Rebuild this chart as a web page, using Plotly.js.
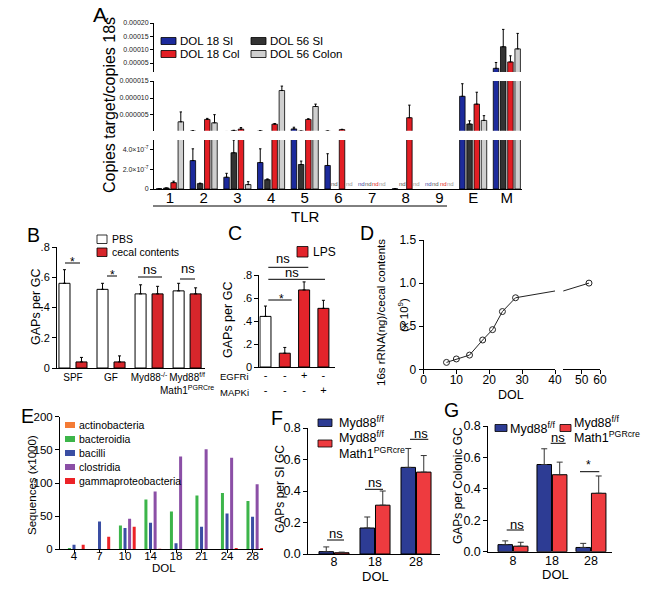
<!DOCTYPE html>
<html><head><meta charset="utf-8">
<script src="https://cdn.plot.ly/plotly-3.0.1.min.js"></script>
<style>html,body{margin:0;padding:0;background:#fff}#chart{width:645px;height:591px}</style>
</head><body><div id="chart"></div>
<script>
// ---------------- Panel A : TLR expression ----------------
const tlrGroups = ['1','2','3','4','5','6','7','8','9','E','M'];
const aNames = ['DOL 18 SI','DOL 56 SI','DOL 18 Col','DOL 56 Colon'];
const aDol18SI     = [0.03e-7, 2.9e-7, 1.2e-7, 2.7e-7, 0.9e-6, 2.4e-7, null, 0.02e-7, null, 10.5e-6, 3.0e-5];
const aDol18SIErr  = [0, 1.2e-7, 0.4e-7, 1.4e-7, 0.5e-6, 1.2e-7, 0, 0, 0, 3.7e-6, 2.2e-5];
const aDol56SI     = [0.1e-7, 0.55e-7, 3.7e-7, 0.95e-7, 2.5e-7, null, null, null, null, 2.35e-6, 11.1e-5];
const aDol56SIErr  = [0, 0.05e-7, 1.3e-7, 0.08e-7, 0.35e-7, 0, 0, 0, 0, 0.95e-6, 6.5e-5];
const aDol18Col    = [0.65e-7, 3.7e-6, 0.85e-6, 2.3e-6, 3.7e-6, 0.7e-6, null, 4.2e-6, null, 8.2e-6, 5.4e-5];
const aDol18ColErr = [0.15e-7, 0.3e-6, 0.45e-6, 0.2e-6, 0.2e-6, 0.1e-6, 0, 3.7e-6, 0, 3.5e-6, 2.3e-5];
const aDol56Col    = [3.0e-6, 2.7e-6, 0.45e-7, 12.2e-6, 7.5e-6, null, null, null, null, 3.4e-6, 10.3e-5];
const aDol56ColErr = [2.9e-6, 2.4e-6, 0.3e-7, 1.3e-6, 0.7e-6, 0, 0, 0, 0, 1.4e-6, 5.8e-5];

// ---------------- Panel B ----------------
const bGroups = ['SPF','GF','Myd88-/-','Myd88f/f Math1PGRCre'];
const bTickText = ['SPF','GF','Myd88<sup>-/-</sup>','Myd88<sup>f/f</sup><br>Math1<sup>PGRCre</sup>'];
const bPBS = [0.56, 0.52, 0.49, 0.51];
const bPBSErr = [0.09, 0.04, 0.06, 0.05];
const bCecal = [0.04, 0.04, 0.49, 0.49];
const bCecalErr = [0.03, 0.04, 0.05, 0.04];

// ---------------- Panel C ----------------
const cConditions = ['control','LPS','LPS+EGFRi','LPS+MAPKi'];
const cValues = [0.44, 0.12, 0.67, 0.51];
const cErr = [0.09, 0.05, 0.07, 0.07];
const cEGFRi = ['-','-','+','-'];
const cMAPKi = ['-','-','-','+'];

// ---------------- Panel D ----------------
const dDol = [7, 10, 14, 18, 21, 24, 28, 54];
const dRNA = [0.08, 0.12, 0.165, 0.34, 0.46, 0.67, 0.83, 1.0];

// ---------------- Panel E ----------------
const eDol = ['4','7','10','14','18','21','24','28'];
const eActinobacteria = [0, 0, 0, 0, 0, 0, 0, 0];
const eBacteroidia = [2, 0, 36, 75, 57, 81, 85, 73];
const eBacilli = [7, 42, 32, 40, 9, 34, 54, 49];
const eClostridia = [0, 0, 46, 87, 140, 151, 138, 98];
const eGammaproteobacteria = [7, 19, 34, 1, 0, 0, 2, 2];

// ---------------- Panels F, G ----------------
const fgDol = ['8','18','28'];
const fCtrl = [0.015, 0.165, 0.55];
const fCtrlErr = [0.03, 0.07, 0.12];
const fMath1 = [0.008, 0.31, 0.52];
const fMath1Err = [0.004, 0.09, 0.105];
const gCtrl = [0.045, 0.555, 0.027];
const gCtrlErr = [0.024, 0.1, 0.026];
const gMath1 = [0.035, 0.49, 0.372];
const gMath1Err = [0.025, 0.08, 0.11];

// ---------------- helpers ----------------
const W = 645, H = 591;
const px = v => v / W;
const py = v => 1 - v / H;
const FA = 'Liberation Sans, Arial, Helvetica, sans-serif';

function axis(extra) {
  return Object.assign({showline:true, linecolor:'#000', linewidth:1, showgrid:false, zeroline:false,
    fixedrange:true, ticks:'outside', ticklen:3, tickwidth:1, tickcolor:'#000', tickangle:0}, extra);
}
function bar(x, y, err, color, xa, ya, width, offset, o) {
  o = o || {};
  return {type:'bar', x:x, y:y, xaxis:xa, yaxis:ya, width:width, offset:offset, textposition:'none',
    marker:{color:color, line:{color:o.lc || '#000', width:o.lw === undefined ? 0.8 : o.lw}},
    error_y: err ? {type:'data', symmetric:false, array:err, arrayminus:err.map(()=>0),
      color:o.ec || '#000', thickness:o.et || 1, width:o.ew || 1.5, visible:true} : {visible:false},
    hoverinfo:'skip', cliponaxis:true, showlegend:false};
}
const annotations = [];
const shapes = [];
function ann(text, x, y, o) {
  o = o || {};
  annotations.push(Object.assign({text:text, x:px(x), y:py(y), xref:'paper', yref:'paper', showarrow:false,
    xanchor:'center', yanchor:'middle', font:{family:FA, size:12, color:'#000'}}, o));
}
function f(size) { return {family:FA, size:size, color:'#000'}; }
function rect(x0, y0, x1, y1, fill) {
  shapes.push({type:'rect', xref:'paper', yref:'paper', x0:px(x0), x1:px(x1), y0:py(y1), y1:py(y0),
    fillcolor:fill, line:{color:'#000', width:0.8}});
}
function hline(x0, x1, y, w) {
  shapes.push({type:'line', xref:'paper', yref:'paper', x0:px(x0), x1:px(x1), y0:py(y), y1:py(y),
    line:{color:'#000', width:w || 1}});
}

const traces = [];

// ---- Panel A bars (three broken-axis segments) ----
const aColors = ['#1c2a9c', '#333333', '#e31e24', '#cfcfcf'];
const aNdColors = ['#3a46a8', '#555555', '#e31e24', '#999999'];
const aVals = [aDol18SI, aDol56SI, aDol18Col, aDol56Col];
const aErrs = [aDol18SIErr, aDol56SIErr, aDol18ColErr, aDol56ColErr];
const aStep = 0.214, aW = 0.163;
['y','y2','y3'].forEach(seg => {
  aVals.forEach((v, k) => {
    traces.push(bar(tlrGroups, v, aErrs[k], aColors[k], 'x', seg, aW, (k - 1.5) * aStep - aW / 2, {ew:1.2}));
  });
});
const aUnitPx = (522 - 154) / (10.45 + 0.475);
aVals.forEach((v, k) => {
  v.forEach((val, i) => {
    if (val === null) {
      annotations.push({text:'nd', xref:'x', yref:'y', x:i, y:0, xshift:(k - 1.5) * aStep * aUnitPx,
        yanchor:'bottom', xanchor:'center', showarrow:false, font:{family:FA, size:6, color:aNdColors[k]}});
    }
  });
});

// ---- Panel B ----
const bStep = 0.447, bW = 0.29;
traces.push(bar(bGroups, bPBS, bPBSErr, '#ffffff', 'x2', 'y4', bW, -bStep / 2 - bW / 2, {lw:1}));
traces.push(bar(bGroups, bCecal, bCecalErr, '#d7262b', 'x2', 'y4', bW, bStep / 2 - bW / 2, {lw:1}));

// ---- Panel C ----
traces.push(bar(cConditions, cValues, cErr, ['#ffffff', '#e3242b', '#e3242b', '#e3242b'], 'x3', 'y5', 0.57, -0.285, {lw:1}));

// ---- Panel D (broken x axis) ----
['x4', 'x5'].forEach(xa => {
  traces.push({type:'scatter', mode:'lines+markers', x:dDol, y:dRNA, xaxis:xa, yaxis:'y6',
    line:{color:'#222', width:1}, marker:{symbol:'circle-open', size:6, color:'#222', line:{width:1}},
    hoverinfo:'skip', showlegend:false, cliponaxis:true});
});

// ---- Panel E ----
const eSeries = [eActinobacteria, eBacteroidia, eBacilli, eClostridia, eGammaproteobacteria];
const eColors = ['#f47b35', '#3cb54a', '#3a4ea3', '#8b4fa6', '#ec2227'];
const eNames = ['actinobacteria', 'bacteroidia', 'bacilli', 'clostridia', 'gammaproteobacteria'];
const eStep = 0.18, eW = 0.118;
eSeries.forEach((v, k) => {
  traces.push(bar(eDol, v, null, eColors[k], 'x6', 'y7', eW, (k - 2) * eStep - eW / 2, {lw:0}));
});

// ---- Panel F ----
const fgBlue = '#2d3c94', fgRed = '#ee3b3f';
const fStep = 0.378, fW = 0.354;
traces.push(bar(fgDol, fCtrl, fCtrlErr, fgBlue, 'x7', 'y8', fW, -fStep / 2 - fW / 2, {lw:1, ec:'#333', ew:3}));
traces.push(bar(fgDol, fMath1, fMath1Err, fgRed, 'x7', 'y8', fW, fStep / 2 - fW / 2, {lw:1, ec:'#333', ew:3}));
// ---- Panel G ----
const gStep = 0.397, gW = 0.372;
traces.push(bar(fgDol, gCtrl, gCtrlErr, fgBlue, 'x8', 'y9', gW, -gStep / 2 - gW / 2, {lw:1, ec:'#333', ew:3}));
traces.push(bar(fgDol, gMath1, gMath1Err, fgRed, 'x8', 'y9', gW, gStep / 2 - gW / 2, {lw:1, ec:'#333', ew:3}));

// ---------------- layout ----------------
const tkA = {family:FA, size:7, color:'#222'};
const layout = {
  width:W, height:H, margin:{l:0, r:0, t:0, b:0}, paper_bgcolor:'#fff', plot_bgcolor:'rgba(0,0,0,0)',
  showlegend:false, barmode:'group', hovermode:false, font:{family:FA, color:'#000'},
  // A
  xaxis: axis({domain:[px(154), px(522)], anchor:'y', type:'category', categoryorder:'array', categoryarray:tlrGroups,
    range:[-0.475, 10.45], ticks:'', tickfont:f(15), ticklabelstandoff:-5}),
  yaxis: axis({domain:[py(189), py(140)], anchor:'x', range:[0, 5.0e-7], tickvals:[0, 2e-7, 4e-7],
    ticktext:['0', '2.0×10<sup>-7</sup>', '4.0×10<sup>-7</sup>'], tickfont:tkA}),
  yaxis2: axis({domain:[py(130.7), py(81)], anchor:'x', range:[0.38e-6, 15e-6], tickvals:[5e-6, 10e-6, 15e-6],
    ticktext:['0.000005', '0.000010', '0.000015'], tickfont:tkA}),
  yaxis3: axis({domain:[py(72), py(23)], anchor:'x', range:[1.625e-5, 2e-4], tickvals:[5e-5, 1e-4, 1.5e-4, 2e-4],
    ticktext:['0.00005', '0.00010', '0.00015', '0.00020'], tickfont:tkA}),
  // B
  xaxis2: axis({domain:[px(57), px(205)], anchor:'y4', type:'category', categoryorder:'array', categoryarray:bGroups,
    range:[-0.42, 3.47], ticks:'', tickvals:bGroups, ticktext:bTickText, tickfont:f(10)}),
  yaxis4: axis({domain:[py(368), py(247)], anchor:'x2', range:[0, 0.8], tickvals:[0, 0.2, 0.4, 0.6, 0.8],
    ticktext:['0', '.2', '.4', '.6', '.8'], ticklen:4, tickfont:f(11)}),
  // C
  xaxis3: axis({domain:[px(259.3), px(335)], anchor:'y5', type:'category', categoryorder:'array', categoryarray:cConditions,
    range:[-0.32, 3.6], ticks:'', tickvals:cConditions, ticktext:cConditions.map((c, i) => cEGFRi[i] + '<br>' + cMAPKi[i]),
    tickfont:f(11), ticklabelstandoff:-2}),
  yaxis5: axis({domain:[py(367), py(275)], anchor:'x3', range:[0, 0.8], tickvals:[0, 0.2, 0.4, 0.6, 0.8],
    ticktext:['0', '.2', '.4', '.6', '.8'], ticklen:4, tickfont:f(11)}),
  // D
  xaxis4: axis({domain:[px(423.5), px(555)], anchor:'y6', range:[0, 40], tickvals:[0, 10, 20, 30, 40], ticklen:4,
    tickfont:f(12), ticklabelstandoff:-5}),
  xaxis5: axis({domain:[px(563.3), px(600)], anchor:'y6', range:[40, 60], tickvals:[50, 60],
    ticklen:4, tickfont:f(12), ticklabelstandoff:-5}),
  yaxis6: axis({domain:[py(369.3), py(240)], anchor:'x4', range:[0, 1.5], tickvals:[0, 0.5, 1, 1.5],
    ticktext:['0', '0.5', '1.0', '1.5'], ticklen:4, tickfont:f(12)}),
  // E
  xaxis6: axis({domain:[px(60), px(263)], anchor:'y7', type:'category', categoryorder:'array', categoryarray:eDol,
    range:[-0.549, 7.41], ticklen:3, tickfont:f(11.5), ticklabelstandoff:-7}),
  yaxis7: axis({domain:[py(549.3), py(416.7)], anchor:'x6', range:[0, 200], tickvals:[0, 50, 100, 150, 200],
    ticklen:4, tickfont:f(11.5)}),
  // F
  xaxis7: axis({domain:[px(308.3), px(440)], anchor:'y8', type:'category', categoryorder:'array', categoryarray:fgDol,
    range:[-0.627, 2.585], ticks:'', tickfont:f(12.5), ticklabelstandoff:-4}),
  yaxis8: axis({domain:[py(554), py(428)], anchor:'x7', range:[0, 0.8], tickvals:[0, 0.2, 0.4, 0.6, 0.8],
    ticktext:['0.0', '0.2', '0.4', '0.6', '0.8'], ticklen:4, tickfont:f(12.5)}),
  // G
  xaxis8: axis({domain:[px(488.3), px(612)], anchor:'y9', type:'category', categoryorder:'array', categoryarray:fgDol,
    range:[-0.633, 2.54], ticks:'', tickfont:f(12.5), ticklabelstandoff:-3}),
  yaxis9: axis({domain:[py(551.7), py(426)], anchor:'x8', range:[0, 0.8], tickvals:[0, 0.2, 0.4, 0.6, 0.8],
    ticktext:['0.0', '0.2', '0.4', '0.6', '0.8'], ticklen:4, tickfont:f(12.5)}),
};

// ---------------- text, legends, significance ----------------
ann('A', 100, 15, {font:f(21)});
[['B', 33, 235], ['C', 235, 233], ['D', 367, 233], ['E', 27, 416], ['F', 277, 418], ['G', 451, 410]]
  .forEach(([t, x, y]) => ann(t, x, y, {font:f(19.5)}));

// A
ann('Copies target/copies 18s', 110, 105, {textangle:-90, font:f(16)});
rect(161, 37.5, 176, 44.5, aColors[0]); ann(aNames[0], 178, 41, {xanchor:'left', font:f(11.5)});
rect(161, 50.5, 176, 57.5, aColors[2]); ann(aNames[2], 178, 54, {xanchor:'left', font:f(11.5)});
rect(251, 37.5, 266, 44.5, aColors[1]); ann(aNames[1], 268, 41, {xanchor:'left', font:f(11.5)});
rect(251, 50.5, 266, 57.5, aColors[3]); ann(aNames[3], 268, 54, {xanchor:'left', font:f(11.5)});
hline(153, 447, 206, 1);
ann('TLR', 305, 217, {font:f(15)});

// B
ann('GAPs per GC', 36, 307, {textangle:-90, font:f(12.5)});
rect(97, 235, 107, 243.5, '#ffffff'); ann('PBS', 110, 239, {xanchor:'left', font:f(10.5)});
rect(97, 248, 107, 256.5, '#d7262b'); ann('cecal contents', 110, 252, {xanchor:'left', font:f(10.5)});
hline(65, 80, 263); ann('*', 72.5, 262, {font:f(12)});
hline(107, 117, 276); ann('*', 112, 275, {font:f(12)});
hline(138, 162, 277); ann('ns', 150, 269, {font:f(13)});
hline(180, 195, 279); ann('ns', 187.5, 268, {font:f(13)});

// C
ann('GAPs per GC', 228, 320, {textangle:-90, font:f(12.5)});
rect(297, 246.5, 308, 257, '#e3242b'); ann('LPS', 311, 252, {xanchor:'left', font:f(12)});
hline(268.3, 308.3, 267.3); ann('ns', 283, 258, {font:f(13)});
hline(268.3, 325, 279.3); ann('ns', 292, 273, {font:f(13)});
hline(268.3, 291.7, 300); ann('*', 281.7, 299, {font:f(12)});
ann('EGFRi', 251, 376, {xanchor:'right', font:f(9.5)});
ann('MAPKi', 251, 392, {xanchor:'right', font:f(9.5)});

// D
ann('16s rRNA(ng)/cecal contents', 381, 313, {textangle:-90, font:f(11.5)});
ann('(x 10<sup>9</sup>)', 403, 315, {textangle:-90, font:f(11.5)});
ann('DOL', 511, 395, {font:f(12.5)});

// E
ann('Sequences (x1000)', 32, 485, {textangle:-90, font:f(11.5)});
eNames.forEach((n, k) => {
  const yc = 425 + k * 14;
  shapes.push({type:'rect', xref:'paper', yref:'paper', x0:px(65), x1:px(75), y0:py(yc + 3), y1:py(yc - 3),
    fillcolor:eColors[k], line:{width:0}});
  ann(n, 77, yc, {xanchor:'left', font:f(10.5)});
});
ann('DOL', 164, 568, {font:f(11.5)});

// F
ann('GAPs per SI GC', 280, 489, {textangle:-90, font:f(12)});
rect(318, 419, 332, 426.5, fgBlue); ann('Myd88<sup>f/f</sup>', 337, 422, {xanchor:'left', font:f(12.5)});
rect(318, 440, 332, 447, fgRed); ann('Myd88<sup>f/f</sup>', 337, 437, {xanchor:'left', font:f(12.5)});
ann('Math1<sup>PGRcre</sup>', 337, 453, {xanchor:'left', font:f(12.5)});
hline(327, 344, 540); ann('ns', 336, 533, {font:f(13)});
hline(365, 383, 489.3); ann('ns', 375, 482, {font:f(13)});
hline(410, 428.3, 439.3); ann('ns', 420.7, 433, {font:f(13)});
ann('DOL', 375, 576, {font:f(13)});

// G
ann('GAPs per Colonic GC', 458, 486, {textangle:-90, font:f(12)});
rect(495, 424.5, 507, 431.5, fgBlue); ann('Myd88<sup>f/f</sup>', 508, 427.5, {xanchor:'left', font:f(12.5)});
rect(560, 424.5, 571, 431.5, fgRed); ann('Myd88<sup>f/f</sup>', 572, 422, {xanchor:'left', font:f(12.5)});
ann('Math1<sup>PGRcre</sup>', 572, 437, {xanchor:'left', font:f(12.5)});
hline(506.7, 524, 530); ann('ns', 517.3, 524, {font:f(13)});
hline(550.7, 565.7, 443.3); ann('ns', 558.3, 437, {font:f(13)});
hline(580, 599.3, 471.7); ann('*', 588.3, 465, {font:f(12)});
ann('DOL', 555, 574, {font:f(13)});

layout.annotations = annotations;
layout.shapes = shapes;

Plotly.newPlot('chart', traces, layout, {staticPlot:true, displayModeBar:false});
</script>
</body></html>
